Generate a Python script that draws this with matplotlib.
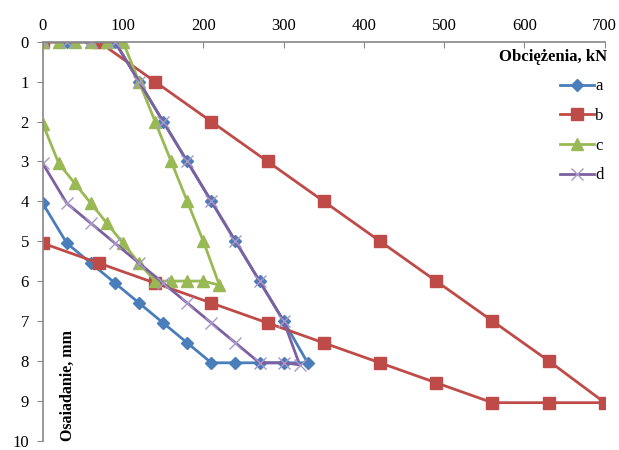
import matplotlib
matplotlib.use("Agg")
import matplotlib.pyplot as plt

plt.rcParams['font.family'] = ['Liberation Serif', 'DejaVu Serif']

# load (kN) vs settlement (mm), loading then unloading
a_load = [0, 30, 60, 90, 120, 150, 180, 210, 240, 270, 300, 330,
          300, 270, 240, 210, 180, 150, 120, 90, 60, 30, 0]
a_set = [0, 0, 0, 0, 1, 2, 3, 4, 5, 6, 7, 8.05,
         8.05, 8.05, 8.05, 8.05, 7.55, 7.05, 6.55, 6.05, 5.55, 5.05, 4.05]

b_load = [0, 70, 140, 210, 280, 350, 420, 490, 560, 630, 700,
          630, 560, 490, 420, 350, 280, 210, 140, 70, 0]
b_set = [0, 0, 1, 2, 3, 4, 5, 6, 7, 8, 9.05,
         9.05, 9.05, 8.55, 8.05, 7.55, 7.05, 6.55, 6.05, 5.55, 5.05]

c_load = [0, 20, 40, 60, 80, 100, 120, 140, 160, 180, 200, 220,
          200, 180, 160, 140, 120, 100, 80, 60, 40, 20, 0]
c_set = [0, 0, 0, 0, 0, 0, 1, 2, 3, 4, 5, 6.1,
         6.0, 6.0, 6.0, 6.0, 5.55, 5.05, 4.55, 4.05, 3.55, 3.05, 2.05]

d_load = [0, 30, 60, 90, 120, 150, 180, 210, 240, 270, 300, 320,
          300, 270, 240, 210, 180, 150, 120, 90, 60, 30, 0]
d_set = [0, 0, 0, 0, 1, 2, 3, 4, 5, 6, 7, 8.1,
         8.05, 8.05, 7.55, 7.05, 6.55, 6.05, 5.55, 5.05, 4.55, 4.05, 3.05]

fig = plt.figure(figsize=(6.19, 4.5), dpi=100)
ax = fig.add_axes([0.069, 0.021, 0.908, 0.886])

ax.plot(a_load, a_set, color='#4A7EBB', lw=2, marker='D', ms=6, label='a')
ax.plot(b_load, b_set, color='#BE4B48', lw=2, marker='s', ms=8, label='b')
ax.plot(c_load, c_set, color='#98B954', lw=2, marker='^', ms=8, label='c')
ax.plot(d_load, d_set, color='#7D60A0', lw=2, marker='x', ms=8, mew=1,
        mec='#A898C8', label='d')

ax.set_xlim(0, 700)
ax.set_ylim(10, 0)
ax.set_xticks(range(0, 701, 100))
ax.set_yticks(range(0, 11))
ax.xaxis.tick_top()
ax.tick_params(axis='x', direction='in', length=4, color='#888888',
               labelsize=12, pad=6)
ax.tick_params(axis='y', direction='out', length=4, color='#888888',
               labelsize=12, pad=6)
for s in ['right', 'bottom']:
    ax.spines[s].set_visible(False)
for s in ['left', 'top']:
    ax.spines[s].set_color('#888888')
    ax.spines[s].set_linewidth(1.2)

fig.text(0.981, 0.873, 'Obciężenia, kN', ha='right', va='center',
         fontsize=12, fontweight='bold')
ax.text(0.044, 0.0, 'Osaiadanie, mm', transform=ax.transAxes, rotation=90,
        ha='center', va='bottom', fontsize=11.5, fontweight='bold')

ax.legend(loc='upper right', bbox_to_anchor=(1.01, 0.925), frameon=False,
          fontsize=12, handlelength=2.0, handletextpad=0.1,
          labelspacing=0.82, borderaxespad=0)

fig.savefig('out.png', dpi=100)
